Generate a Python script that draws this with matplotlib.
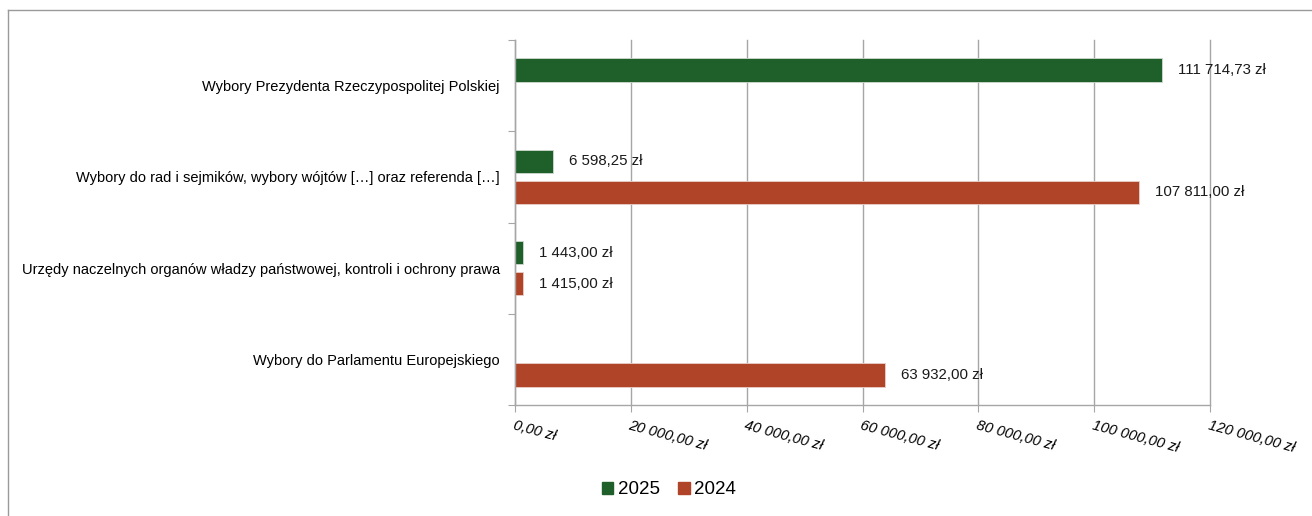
import numpy as np
import matplotlib
matplotlib.use("Agg")
import matplotlib.pyplot as plt
from matplotlib.lines import Line2D
from matplotlib.patches import Patch

plt.rcParams['font.family'] = ['Liberation Sans', 'DejaVu Sans']

categories = [
    "Wybory Prezydenta Rzeczypospolitej Polskiej",
    "Wybory do rad i sejmików, wybory wójtów […] oraz referenda […]",
    "Urzędy naczelnych organów władzy państwowej, kontroli i ochrony prawa",
    "Wybory do Parlamentu Europejskiego",
]
values_2025 = [111714.73, 6598.25, 1443.00, np.nan]
values_2024 = [np.nan, 107811.00, 1415.00, 63932.00]
series_names = ["2025", "2024"]
x_ticks = [0, 20000, 40000, 60000, 80000, 100000, 120000]

GREEN = "#1F5F2A"
RED = "#B04428"
GRID = "#A6A6A6"


def pln(v):
    s = f"{v:,.2f}"
    s = s.replace(",", " ").replace(".", ",")
    return s + " zł"


fig = plt.figure(figsize=(13.12, 5.16), dpi=100)
ax = fig.add_axes([515/1312, 1-405/516, (1210-515)/1312, (405-40)/516])

y = np.arange(len(categories))
h = 0.255
off = 0.17
ax.barh(y - off, values_2025, height=h, color=GREEN, edgecolor="#cfd9cf", linewidth=0.6, label=series_names[0])
ax.barh(y + off, values_2024, height=h, color=RED, edgecolor="#e8cfc8", linewidth=0.6, label=series_names[1])

for ys, vals in ((y - off, values_2025), (y + off, values_2024)):
    for yy, v in zip(ys, vals):
        if np.isfinite(v):
            ax.annotate(pln(v), (v, yy), xytext=(16, 0), textcoords="offset pixels",
                        ha="left", va="center", fontsize=10.8, color="#1a1a1a")

ax.set_xlim(0, 120000)
ax.set_ylim(len(categories) - 0.5, -0.5)
ax.set_xticks(x_ticks)
ax.set_xticklabels([pln(t) for t in x_ticks], rotation=-15, ha="left", va="top",
                   rotation_mode="anchor", fontstyle="italic", fontsize=10.6)
ax.tick_params(axis="x", length=5, color=GRID, pad=5)

ax.set_yticks(np.arange(-0.5, len(categories), 1.0))
ax.set_yticklabels([])
ax.set_yticks(y, minor=True)
ax.set_yticklabels(categories, minor=True, fontsize=10.5)
ax.tick_params(axis="y", which="major", length=5, color=GRID, direction="out")
ax.tick_params(axis="y", which="minor", length=0, pad=11)

ax.grid(axis="x", color=GRID, linewidth=1)
for gl in ax.get_xgridlines():
    gl.set_clip_on(False)
ax.set_axisbelow(True)
for s in ("top", "right"):
    ax.spines[s].set_visible(False)
for s in ("left", "bottom"):
    ax.spines[s].set_color(GRID)
    ax.spines[s].set_linewidth(1)

handles = [Patch(facecolor=GREEN, edgecolor=GREEN), Patch(facecolor=RED, edgecolor=RED)]
fig.legend(handles, series_names, loc="center", bbox_to_anchor=(669/1312, 1-490/516), ncol=2,
           frameon=False, fontsize=13.5, handlelength=0.6, handleheight=0.6, handletextpad=0.25,
           columnspacing=1.0)

# figure border
fig.add_artist(Line2D([8/1312, 1.0], [1-10/516, 1-10/516], color="#9a9a9a", linewidth=1, transform=fig.transFigure))
fig.add_artist(Line2D([8/1312, 8/1312], [0, 1-10/516], color="#9a9a9a", linewidth=1, transform=fig.transFigure))

fig.savefig("out.png", dpi=100)
